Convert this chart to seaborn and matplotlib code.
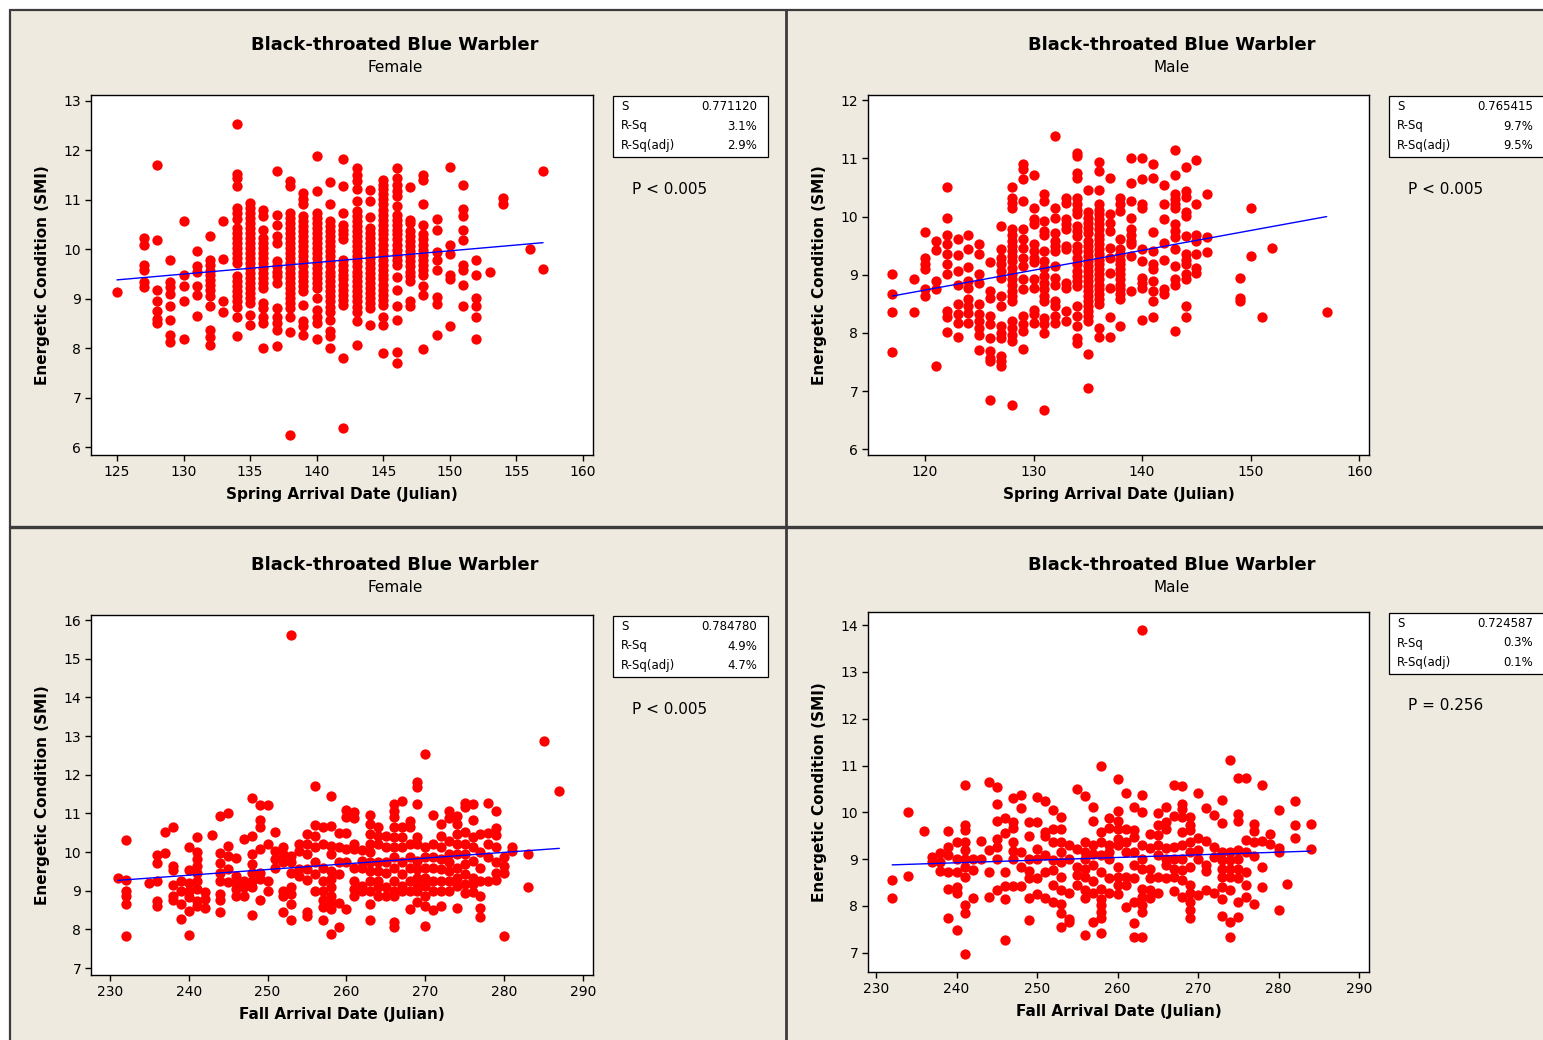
import matplotlib
matplotlib.use("Agg")
import matplotlib.pyplot as plt
from matplotlib.patches import Rectangle
from matplotlib.lines import Line2D
import seaborn as sns
import pandas as pd

# ---------------------------------------------------------------------------
# Energetic condition (SMI) by arrival day, one list of birds per Julian day
# ---------------------------------------------------------------------------
spring_female = {
    125: [9.14],
    127: [10.22, 10.09, 9.69, 9.59, 9.34, 9.24],
    128: [11.70, 10.18, 9.17, 8.95, 8.76, 8.59, 8.51],
    129: [9.79, 9.34, 9.23, 9.10, 8.86, 8.56, 8.27, 8.12],
    130: [10.57, 9.47, 9.25, 8.95, 8.18],
    131: [9.97, 9.66, 9.55, 9.25, 9.08, 8.66],
    132: [10.26, 9.78, 9.68, 9.57, 9.47, 9.37, 9.27, 9.17, 9.06, 8.86, 8.37, 8.22, 8.07],
    133: [10.57, 9.80, 8.95, 8.74],
    134: [12.54, 11.53, 11.45, 11.28, 10.84, 10.74, 10.62, 10.43, 10.33, 10.23, 10.13,
          10.03, 9.93, 9.82, 9.72, 9.45, 9.35, 9.25, 9.15, 9.05, 8.95, 8.84, 8.64, 8.24],
    135: [10.94, 10.84, 10.74, 10.64, 10.53, 10.43, 10.33, 10.23, 10.13, 10.03, 9.93,
          9.82, 9.72, 9.62, 9.52, 9.42, 9.32, 9.22, 9.11, 9.01, 8.91, 8.68, 8.47],
    136: [10.80, 10.67, 10.40, 10.23, 10.13, 10.03, 9.93, 9.82, 9.72, 9.62, 9.52, 9.42,
          9.32, 9.22, 8.91, 8.81, 8.64, 8.51, 8.00],
    137: [11.58, 10.70, 10.50, 10.26, 10.13, 9.76, 9.66, 9.55, 9.45, 9.32, 8.81, 8.64,
          8.51, 8.37, 8.05],
    138: [11.39, 11.28, 10.74, 10.64, 10.53, 10.43, 10.33, 10.23, 10.13, 10.03, 9.93,
          9.82, 9.72, 9.62, 9.52, 9.42, 9.32, 9.22, 9.11, 9.01, 8.91, 8.81, 8.64, 8.32, 6.24],
    139: [11.14, 11.01, 10.91, 10.67, 10.57, 10.47, 10.36, 10.26, 10.16, 10.06, 9.96,
          9.86, 9.76, 9.66, 9.55, 9.45, 9.35, 9.25, 9.15, 8.88, 8.54, 8.44, 8.27],
    140: [11.89, 11.18, 10.74, 10.64, 10.53, 10.43, 10.33, 10.23, 10.13, 10.03, 9.93,
          9.82, 9.72, 9.62, 9.52, 9.42, 9.32, 9.22, 9.01, 8.78, 8.64, 8.51, 8.18],
    141: [11.36, 10.92, 10.57, 10.47, 10.36, 10.26, 10.16, 10.06, 9.96, 9.86, 9.76,
          9.66, 9.55, 9.45, 9.35, 9.25, 9.15, 9.05, 8.95, 8.84, 8.74, 8.56, 8.34, 8.24, 8.00],
    142: [11.83, 11.28, 10.74, 10.50, 10.40, 10.30, 10.20, 9.79, 9.69, 9.59, 9.49,
          9.39, 9.28, 9.18, 9.08, 8.98, 8.88, 7.80, 6.38],
    143: [11.65, 11.51, 11.38, 11.21, 10.97, 10.77, 10.67, 10.57, 10.47, 10.36, 10.26,
          10.16, 10.06, 9.96, 9.86, 9.76, 9.66, 9.55, 9.45, 9.35, 9.25, 9.15, 9.05,
          8.95, 8.84, 8.74, 8.54, 8.07],
    144: [11.20, 10.97, 10.65, 10.43, 10.33, 10.23, 10.13, 10.03, 9.93, 9.82, 9.72,
          9.62, 9.52, 9.42, 9.32, 9.22, 9.11, 9.01, 8.91, 8.81, 8.47],
    145: [11.41, 11.31, 11.21, 11.11, 11.01, 10.91, 10.80, 10.70, 10.60, 10.50, 10.40,
          10.30, 10.20, 10.09, 9.99, 9.89, 9.79, 9.69, 9.59, 9.49, 9.39, 9.28, 9.18,
          9.08, 8.98, 8.88, 8.64, 8.46, 7.91],
    146: [11.64, 11.45, 11.31, 11.18, 11.07, 10.87, 10.70, 10.60, 10.50, 10.40, 10.30,
          10.20, 10.09, 9.99, 9.89, 9.79, 9.69, 9.44, 9.17, 8.86, 8.56, 7.93, 7.70],
    147: [11.26, 10.60, 10.53, 10.36, 10.26, 10.16, 10.06, 9.96, 9.86, 9.76, 9.66,
          9.55, 9.45, 9.35, 8.95, 8.86],
    148: [11.51, 11.41, 10.92, 10.50, 10.30, 10.20, 10.09, 9.99, 9.89, 9.79, 9.69,
          9.59, 9.49, 9.25, 9.08, 7.99],
    149: [10.62, 10.38, 9.95, 9.79, 9.59, 9.03, 8.89, 8.27],
    150: [11.66, 10.09, 9.91, 9.49, 9.39, 8.44],
    151: [11.31, 10.82, 10.67, 10.38, 10.18, 9.68, 9.59, 9.28, 8.86],
    152: [9.79, 9.49, 9.01, 8.86, 8.64, 8.18],
    153: [9.55],
    154: [11.04, 10.92],
    156: [10.01],
    157: [11.58, 9.61],
}

spring_male = {
    117: [9.02, 8.66, 8.36, 7.67],
    119: [8.92, 8.36],
    120: [9.74, 9.29, 9.19, 9.09, 8.75, 8.63],
    121: [9.58, 9.42, 8.90, 8.75, 7.43],
    122: [10.51, 9.97, 9.69, 9.52, 9.35, 9.18, 9.02, 8.38, 8.27, 8.02],
    123: [9.62, 9.34, 9.06, 8.83, 8.50, 8.32, 8.17, 7.93],
    124: [9.69, 9.44, 9.13, 8.89, 8.78, 8.58, 8.46, 8.35, 8.17],
    125: [9.52, 9.35, 9.01, 8.86, 8.49, 8.32, 8.20, 8.09, 7.97, 7.70],
    126: [9.21, 8.72, 8.60, 8.29, 8.15, 7.92, 7.69, 7.57, 7.52, 6.84],
    127: [9.84, 9.44, 9.29, 9.18, 9.06, 8.95, 8.63, 8.46, 8.12, 8.00, 7.92, 7.60, 7.52, 7.43],
    128: [10.50, 10.32, 10.24, 10.15, 9.78, 9.69, 9.58, 9.49, 9.41, 9.32, 9.23, 9.12,
          9.01, 8.92, 8.83, 8.72, 8.63, 8.55, 8.20, 8.09, 7.97, 7.86, 6.76],
    129: [10.90, 10.81, 10.64, 10.27, 9.78, 9.61, 9.46, 9.29, 9.15, 8.92, 8.75, 8.29,
          8.15, 8.03, 7.73],
    130: [10.71, 10.15, 9.95, 9.87, 9.52, 9.41, 9.29, 9.21, 8.92, 8.78, 8.40, 8.32, 8.17],
    131: [10.38, 10.27, 9.92, 9.75, 9.69, 9.41, 9.23, 9.12, 8.98, 8.86, 8.75, 8.63,
          8.55, 8.26, 8.15, 8.00, 6.67],
    132: [11.38, 10.15, 9.97, 9.72, 9.58, 9.49, 9.41, 9.15, 8.95, 8.83, 8.55, 8.46, 8.29, 8.17],
    133: [10.32, 10.24, 9.95, 9.87, 9.78, 9.49, 9.44, 8.86, 8.78, 8.38, 8.21],
    134: [11.10, 11.04, 10.75, 10.67, 10.32, 10.21, 10.12, 10.04, 9.84, 9.75, 9.66,
          9.49, 9.41, 9.29, 9.18, 9.06, 8.98, 8.89, 8.81, 8.46, 8.29, 8.12, 7.92, 7.83],
    135: [10.46, 10.07, 9.98, 9.89, 9.81, 9.72, 9.58, 9.49, 9.41, 9.32, 9.23, 9.15,
          9.06, 8.98, 8.89, 8.81, 8.72, 8.63, 8.55, 8.46, 8.38, 8.29, 8.20, 7.63, 7.05],
    136: [10.93, 10.78, 10.46, 10.21, 10.12, 10.04, 9.95, 9.87, 9.78, 9.69, 9.61,
          9.52, 9.44, 9.35, 9.26, 9.18, 9.09, 9.01, 8.92, 8.83, 8.75, 8.66, 8.58, 8.49,
          8.09, 7.93],
    137: [10.67, 10.04, 9.89, 9.75, 9.46, 9.29, 9.03, 8.78, 8.27, 7.93],
    138: [10.32, 10.21, 10.09, 9.61, 9.44, 9.35, 9.26, 9.18, 9.09, 9.01, 8.92, 8.83,
          8.75, 8.66, 8.58, 8.12],
    139: [11.01, 10.58, 10.27, 9.97, 9.78, 9.69, 9.58, 9.52, 9.32, 8.72],
    140: [11.01, 10.64, 10.21, 10.14, 9.44, 9.23, 8.95, 8.86, 8.78, 8.22],
    141: [10.90, 10.67, 9.74, 9.40, 9.18, 9.09, 8.90, 8.72, 8.55, 8.27],
    142: [10.55, 10.21, 9.95, 9.55, 9.25, 8.75, 8.66],
    143: [11.15, 10.71, 10.38, 10.30, 10.21, 10.15, 9.88, 9.75, 9.64, 9.45, 9.15,
          8.92, 8.83, 8.04],
    144: [10.85, 10.44, 10.34, 10.07, 10.01, 9.66, 9.35, 9.26, 9.18, 9.01, 8.92, 8.46, 8.27],
    145: [10.97, 10.21, 9.69, 9.58, 9.36, 9.12, 9.03],
    146: [10.39, 9.64, 9.39],
    149: [8.95, 8.60, 8.55],
    150: [10.15, 9.32],
    151: [8.27],
    152: [9.46],
    157: [8.36],
}

fall_female = {
    231: [9.34],
    232: [10.32, 9.28, 8.98, 8.87, 8.66, 7.82],
    235: [9.19],
    236: [9.93, 9.71, 9.26, 8.74, 8.61],
    237: [10.53, 9.98],
    238: [10.66, 9.63, 9.53, 9.16, 8.87, 8.76],
    239: [9.26, 9.00, 8.66, 8.28],
    240: [10.12, 9.53, 9.19, 9.00, 8.83, 8.48, 7.85],
    241: [10.38, 9.99, 9.82, 9.65, 9.47, 9.26, 9.04, 8.74, 8.61],
    242: [8.96, 8.78, 8.54],
    243: [10.44],
    244: [10.92, 9.97, 9.71, 9.47, 9.26, 8.91, 8.76, 8.46],
    245: [11.00, 10.16, 9.91, 9.56, 9.22],
    246: [9.84, 9.39, 9.19, 9.04, 8.87],
    247: [10.33, 9.26, 9.09, 8.87],
    248: [11.39, 10.42, 9.95, 9.69, 9.47, 9.26, 9.09, 8.38],
    249: [11.22, 10.84, 10.66, 10.08, 9.47, 9.30, 8.77],
    250: [11.22, 10.21, 9.26, 8.98],
    251: [10.51, 10.03, 9.82, 9.60],
    252: [10.12, 9.95, 9.73, 9.00, 8.87, 8.44],
    253: [15.60, 9.91, 9.73, 9.47, 9.09, 8.91, 8.66, 8.25],
    254: [10.21, 10.03, 9.56, 9.39],
    255: [10.47, 10.21, 9.95, 9.56, 9.28, 8.46, 8.35],
    256: [11.70, 10.71, 10.42, 10.12, 9.73, 9.43, 9.00],
    257: [10.66, 10.21, 9.60, 9.26, 8.98, 8.76, 8.57, 8.25],
    258: [11.46, 10.68, 10.16, 9.95, 9.52, 9.30, 9.09, 8.87, 8.70, 8.53, 7.88],
    259: [10.49, 10.12, 9.73, 9.43, 8.67, 8.07],
    260: [11.09, 10.91, 10.48, 10.08, 9.73, 8.53],
    261: [11.03, 10.88, 10.21, 10.08, 9.60, 9.26, 9.04, 8.87],
    262: [10.05, 9.78, 9.60, 9.13, 9.00],
    263: [10.97, 10.72, 10.47, 10.21, 9.99, 9.73, 9.52, 9.26, 9.00, 8.66, 8.24],
    264: [10.64, 10.42, 10.21, 9.73, 9.52, 9.26, 9.09, 8.87],
    265: [10.42, 10.12, 9.73, 9.47, 9.09, 8.87],
    266: [11.24, 11.07, 10.90, 10.64, 10.38, 10.12, 9.86, 9.60, 9.26, 9.00, 8.87, 8.18, 8.07],
    267: [11.33, 10.64, 10.38, 10.12, 9.73, 9.43, 9.13, 9.00],
    268: [10.81, 10.64, 10.21, 9.86, 9.60, 9.26, 9.00, 8.53],
    269: [11.80, 11.69, 11.24, 10.38, 10.21, 9.78, 9.56, 9.34, 9.17, 9.00, 8.70],
    270: [12.53, 10.12, 9.86, 9.60, 9.34, 9.13, 8.87, 8.61, 8.09],
    271: [10.96, 10.21, 9.86, 9.60, 9.26, 9.00, 8.50],
    272: [10.72, 10.42, 10.12, 9.82, 9.56, 9.26, 9.00, 8.61],
    273: [11.05, 10.88, 10.29, 9.95, 9.73, 9.52, 9.26, 9.00],
    274: [10.94, 10.72, 10.47, 10.21, 9.95, 9.60, 9.34, 9.13, 8.55],
    275: [11.28, 11.16, 10.51, 10.21, 9.95, 9.69, 9.43, 9.17, 8.93],
    276: [11.24, 10.83, 10.38, 10.12, 9.78, 9.34, 9.17, 8.96],
    277: [10.47, 9.99, 9.60, 9.26, 8.87, 8.55, 8.31],
    278: [11.28, 10.48, 10.21, 9.86, 9.26],
    279: [11.07, 10.61, 10.44, 10.12, 9.73, 9.47, 9.28],
    280: [9.86, 9.65, 9.45, 7.82],
    281: [10.14, 10.02],
    283: [9.95, 9.10],
    285: [12.88],
    287: [11.59],
}

fall_male = {
    232: [8.55, 8.17],
    234: [10.01, 8.64],
    236: [9.61],
    237: [9.05, 8.93],
    238: [9.14, 8.94, 8.74],
    239: [9.60, 9.26, 9.09, 8.73, 8.36, 7.75],
    240: [9.36, 9.01, 8.73, 8.41, 8.27, 7.49],
    241: [10.58, 9.73, 9.62, 9.37, 9.19, 9.01, 8.84, 8.62, 8.02, 7.84, 6.97],
    242: [9.01, 8.77, 8.17],
    243: [9.38, 9.01],
    244: [10.65, 9.19, 8.73, 8.20],
    245: [10.54, 10.17, 9.81, 9.44, 9.26, 9.01, 8.35],
    246: [9.88, 9.56, 8.73, 8.42, 8.15, 7.27],
    247: [10.31, 9.80, 9.67, 9.37, 9.17, 9.01, 8.43],
    248: [10.37, 10.10, 9.16, 8.84, 8.43],
    249: [9.80, 9.50, 9.01, 8.74, 8.59, 8.17, 7.71],
    250: [10.33, 9.80, 9.21, 9.01, 8.59, 8.25],
    251: [10.24, 9.58, 9.50, 9.09, 8.73, 8.17],
    252: [10.05, 9.65, 9.37, 8.98, 8.77, 8.45, 8.09],
    253: [9.90, 9.65, 9.37, 9.16, 8.94, 8.62, 8.34, 8.05, 7.84, 7.56],
    254: [9.30, 9.01, 8.27, 7.73, 7.65],
    255: [10.49, 9.21, 8.84, 8.66, 8.45],
    256: [10.34, 9.37, 9.16, 9.01, 8.80, 8.62, 8.34, 8.17, 7.38],
    257: [10.12, 9.81, 9.30, 9.12, 8.87, 8.53, 8.27, 7.65],
    258: [10.99, 9.58, 9.37, 9.09, 8.73, 8.37, 8.16, 8.02, 7.88, 7.75, 7.43],
    259: [9.87, 9.67, 9.31, 9.16, 9.01, 8.60, 8.27],
    260: [10.72, 10.02, 9.81, 9.65, 9.44, 9.30, 8.84, 8.62, 8.45, 8.25],
    261: [10.42, 9.65, 9.37, 9.16, 8.62, 8.45, 7.98],
    262: [10.12, 9.62, 9.48, 9.16, 8.87, 8.59, 8.09, 7.63, 7.34],
    263: [13.89, 10.37, 10.01, 9.30, 9.01, 8.80, 8.37, 8.20, 8.02, 7.88, 7.34],
    264: [9.53, 9.23, 8.80, 8.59, 8.34, 8.17],
    265: [9.99, 9.73, 9.51, 9.30, 9.09, 8.62, 8.27],
    266: [10.12, 9.80, 9.65, 9.23, 9.01, 8.87, 8.60],
    267: [10.59, 9.92, 9.26, 9.01, 8.80, 8.62, 8.32],
    268: [10.56, 10.17, 10.08, 9.90, 9.58, 9.30, 9.01, 8.77, 8.55, 8.20],
    269: [9.90, 9.73, 9.62, 9.37, 9.16, 8.84, 8.45, 8.27, 8.09, 7.91, 7.75],
    270: [10.42, 9.46, 9.19, 9.01, 8.23],
    271: [10.10, 9.38, 8.87, 8.74, 8.35],
    272: [9.95, 9.26, 9.05, 8.27],
    273: [10.27, 9.78, 9.16, 8.98, 8.80, 8.62, 8.41, 8.16, 7.79],
    274: [11.11, 9.16, 8.98, 8.80, 8.62, 8.34, 7.65, 7.34],
    275: [10.74, 9.97, 9.81, 9.19, 9.01, 8.80, 8.59, 8.09, 7.77],
    276: [10.74, 9.41, 9.16, 8.73, 8.45, 8.20],
    277: [9.76, 9.60, 9.37, 9.07, 8.05],
    278: [10.59, 9.38, 8.84, 8.40],
    279: [9.53, 9.33],
    280: [10.05, 9.23, 9.16, 7.91],
    281: [8.48],
    282: [10.24, 9.73, 9.46],
    284: [9.76, 9.21],
}

# Regression summary printed beside each panel
fit_s = ["0.771120", "0.765415", "0.784780", "0.724587"]
fit_rsq = ["3.1%", "9.7%", "4.9%", "0.3%"]
fit_rsq_adj = ["2.9%", "9.5%", "4.7%", "0.1%"]
p_labels = ["P < 0.005", "P < 0.005", "P < 0.005", "P = 0.256"]
sexes = ["Female", "Male", "Female", "Male"]
x_titles = ["Spring Arrival Date (Julian)", "Spring Arrival Date (Julian)",
            "Fall Arrival Date (Julian)", "Fall Arrival Date (Julian)"]

W, H = 1543, 1040
PANEL_BG = "#EEEAE0"
FRAME = "#3C3C3C"

sns.set_style("ticks")
plt.rcParams["font.family"] = ["DejaVu Sans"]
plt.rcParams.update({
    "text.color": "black",
    "axes.labelcolor": "black",
    "xtick.color": "black",
    "ytick.color": "black",
})

fig = plt.figure(figsize=(W / 100, H / 100), dpi=100)
fig.patch.set_facecolor("white")


def fx(x):
    return x / W


def fy(y):
    return 1 - y / H


# beige panel area and dividing frame lines
fig.add_artist(Rectangle((fx(10), 0), fx(W - 10), 1 - 10 / H,
                         transform=fig.transFigure, facecolor=PANEL_BG,
                         edgecolor="none", zorder=0))
for xs, ys, lw in [((10, W), (10, 10), 1.6), ((10, 10), (10, H), 1.6),
                   ((786, 786), (10, H), 2.0), ((10, W), (527, 527), 2.4)]:
    fig.add_artist(Line2D([fx(xs[0]), fx(xs[1])], [fy(ys[0]), fy(ys[1])],
                          transform=fig.transFigure, color=FRAME, lw=lw, zorder=1))

panels = [
    dict(data=spring_female, box=(91, 95, 593, 455), xlim=(123.05, 160.75),
         ylim=(5.84, 13.12), xticks=range(125, 161, 5), yticks=range(6, 14),
         cx=395, ty=45, stat=(613, 96)),
    dict(data=spring_male, box=(868, 95, 1369, 455), xlim=(114.75, 160.9),
         ylim=(5.9, 12.09), xticks=range(120, 161, 10), yticks=range(6, 13),
         cx=1172, ty=45, stat=(1389, 96)),
    dict(data=fall_female, box=(91, 615, 593, 975), xlim=(227.6, 291.27),
         ylim=(6.82, 16.13), xticks=range(230, 291, 10), yticks=range(7, 17),
         cx=395, ty=565, stat=(613, 616)),
    dict(data=fall_male, box=(868, 612, 1369, 972), xlim=(229.0, 291.24),
         ylim=(6.59, 14.28), xticks=range(230, 291, 10), yticks=range(7, 15),
         cx=1172, ty=565, stat=(1389, 613)),
]

for i, p in enumerate(panels):
    rows = [(d, v) for d, vals in p["data"].items() for v in vals]
    df = pd.DataFrame(rows, columns=["day", "smi"])

    l, t, r, b = p["box"]
    ax = fig.add_axes([fx(l), fy(b), (r - l) / W, (b - t) / H])
    ax.set_facecolor("white")

    sns.scatterplot(data=df, x="day", y="smi", ax=ax, color="#FF0000",
                    s=55, linewidth=0, zorder=3)
    sns.regplot(data=df, x="day", y="smi", ax=ax, scatter=False, ci=None,
                color="#0000FF", line_kws=dict(lw=1.0, zorder=4))

    ax.set_xlim(*p["xlim"])
    ax.set_ylim(*p["ylim"])
    ax.set_xticks(list(p["xticks"]))
    ax.set_yticks(list(p["yticks"]))
    ax.tick_params(direction="out", length=4, width=1, colors="black",
                   labelsize=10, pad=3)
    for sp in ax.spines.values():
        sp.set_visible(True)
        sp.set_color("black")
        sp.set_linewidth(1.0)

    ax.set_xlabel(x_titles[i], fontsize=11, fontweight="bold")
    ax.set_ylabel("Energetic Condition (SMI)", fontsize=11, fontweight="bold")
    # axis titles sit a fixed pixel distance from the plot frame
    ax.xaxis.set_label_coords(0.5, -32 / (b - t))
    ax.yaxis.set_label_coords(-41 / (r - l), 0.5)

    # panel headings
    fig.text(fx(p["cx"]), fy(p["ty"]), "Black-throated Blue Warbler",
             ha="center", va="center", fontsize=13, fontweight="bold")
    fig.text(fx(p["cx"]), fy(p["ty"] + 23), sexes[i],
             ha="center", va="center", fontsize=11)

    # summary box
    sx, sy = p["stat"]
    fig.add_artist(Rectangle((fx(sx), fy(sy + 61)), 155 / W, 61 / H,
                             transform=fig.transFigure, facecolor="white",
                             edgecolor="black", lw=0.9, zorder=2))
    for k, (lab, val) in enumerate([("S", fit_s[i]), ("R-Sq", fit_rsq[i]),
                                    ("R-Sq(adj)", fit_rsq_adj[i])]):
        yy = fy(sy + 10.5 + k * 19.5)
        fig.text(fx(sx + 8), yy, lab, ha="left", va="center", fontsize=8.5, zorder=3)
        fig.text(fx(sx + 144), yy, val, ha="right", va="center", fontsize=8.5, zorder=3)
    fig.text(fx(sx + 19), fy(sy + 93), p_labels[i], ha="left", va="center",
             fontsize=11)

fig.savefig("out.png", dpi=100, facecolor=fig.get_facecolor())
